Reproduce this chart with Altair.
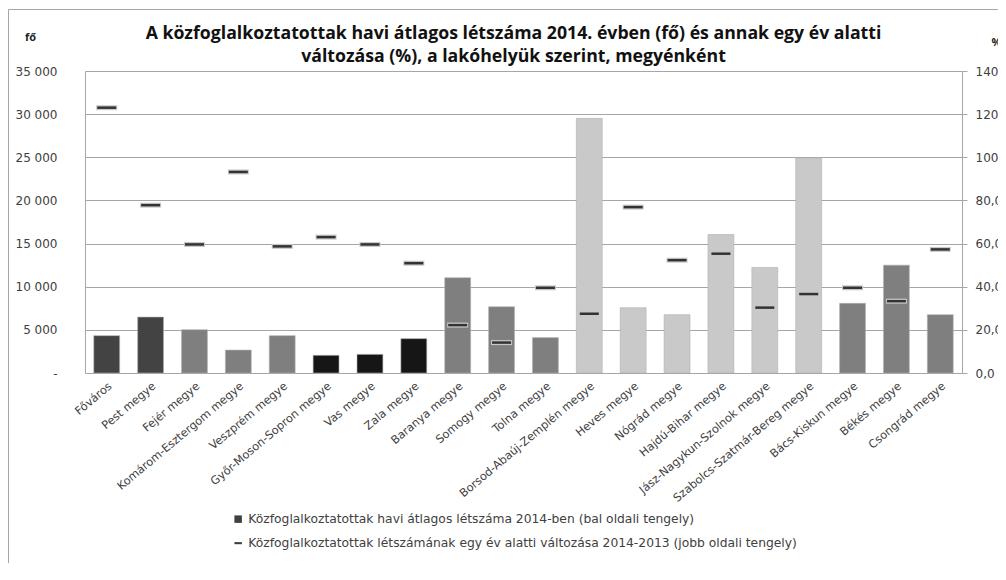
import altair as alt
import pandas as pd

counties = ["Főváros", "Pest megye", "Fejér megye", "Komárom-Esztergom megye",
            "Veszprém megye", "Győr-Moson-Sopron megye", "Vas megye", "Zala megye",
            "Baranya megye", "Somogy megye", "Tolna megye",
            "Borsod-Abaúj-Zemplén megye", "Heves megye", "Nógrád megye",
            "Hajdú-Bihar megye", "Jász-Nagykun-Szolnok megye",
            "Szabolcs-Szatmár-Bereg megye", "Bács-Kiskun megye", "Békés megye",
            "Csongrád megye"]
regions = ["Közép-Magyarország", "Közép-Magyarország", "Közép-Dunántúl", "Közép-Dunántúl",
           "Közép-Dunántúl", "Nyugat-Dunántúl", "Nyugat-Dunántúl", "Nyugat-Dunántúl",
           "Dél-Dunántúl", "Dél-Dunántúl", "Dél-Dunántúl",
           "Észak-Magyarország", "Észak-Magyarország", "Észak-Magyarország",
           "Észak-Alföld", "Észak-Alföld", "Észak-Alföld",
           "Dél-Alföld", "Dél-Alföld", "Dél-Alföld"]
headcount = [4330, 6480, 5020, 2660, 4330, 2050, 2160, 3980, 11040, 7680, 4100,
             29510, 7570, 6760, 16050, 12230, 24930, 8070, 12500, 6760]
change_pct = [123.0, 77.8, 59.6, 93.2, 58.7, 63.0, 59.6, 50.9, 22.2, 14.1, 39.5,
              27.5, 76.9, 52.3, 55.3, 30.3, 36.6, 39.5, 33.3, 57.3]

region_names = ["Közép-Magyarország", "Közép-Dunántúl", "Nyugat-Dunántúl", "Dél-Dunántúl",
                "Észak-Magyarország", "Észak-Alföld", "Dél-Alföld"]
region_colors = ["#434343", "#7f7f7f", "#161616", "#7f7f7f", "#c9c9c9", "#c9c9c9", "#7f7f7f"]

legend_labels = ["Közfoglalkoztatottak havi átlagos létszáma 2014-ben (bal oldali tengely)",
                 "Közfoglalkoztatottak létszámának egy év alatti változása 2014-2013 (jobb oldali tengely)"]

title_lines = ["A közfoglalkoztatottak havi átlagos létszáma 2014. évben (fő) és annak egy év alatti",
               "változása (%), a lakóhelyük szerint, megyénként"]

df = pd.DataFrame({"county": counties, "region": regions,
                   "headcount": headcount, "change": change_pct})
legend_df = pd.DataFrame({"label": legend_labels})

FONT = "DejaVu Sans"
TFONT = "Open Sans"
GRID = "#a6a6a6"
TXT = "#404040"

xenc = alt.X("county:N", sort=counties, title=None,
             scale=alt.Scale(paddingInner=0.41, paddingOuter=0.2),
             axis=alt.Axis(labelAngle=-40, labelFontSize=11.3, labelFont=FONT,
                           labelColor=TXT, ticks=False, labelPadding=7,
                           domainColor=GRID, labelLimit=300))

frame = alt.Chart(pd.DataFrame({"f": [0]})).mark_rect(
    fill="transparent", stroke="#a6a6a6", strokeWidth=1
).encode(x=alt.value(-76.5), x2=alt.value(1000), y=alt.value(-61.5), y2=alt.value(700))

bars = alt.Chart(df).mark_bar(stroke="#b0b0b0", strokeWidth=0.6).encode(
    x=xenc,
    y=alt.Y("headcount:Q", scale=alt.Scale(domain=[0, 35000], nice=False),
            axis=alt.Axis(values=list(range(0, 35001, 5000)), grid=True, gridColor=GRID,
                          domainColor=GRID, ticks=False, labelPadding=28,
                          labelFont=FONT, labelFontSize=12, labelColor=TXT,
                          labelExpr="datum.value == 0 ? '-\u00a0\u00a0' : replace(format(datum.value, ','), ',', ' ')",
                          title="fő", titleAngle=0, titleX=-55, titleY=-34,
                          titleAlign="center", titleBaseline="middle",
                          titleFont=TFONT, titleFontSize=11, titleFontWeight="bold",
                          titleColor="#222222")),
    fill=alt.Fill("region:N", scale=alt.Scale(domain=region_names, range=region_colors),
                  legend=None),
)

yr = alt.Y("change:Q", scale=alt.Scale(domain=[0, 140], nice=False),
           axis=alt.Axis(orient="right", values=list(range(0, 141, 20)), grid=False,
                         domainColor=GRID, tickColor=GRID, tickSize=5, labelPadding=8,
                         labelFont=FONT, labelFontSize=12, labelColor=TXT,
                         labelExpr="replace(format(datum.value, '.1f'), '.', ',')",
                         title="%", titleAngle=0, titleX=34, titleY=-29,
                         titleAlign="center", titleBaseline="middle",
                         titleFont=TFONT, titleFontSize=11, titleFontWeight="bold",
                         titleColor="#222222"))

halo = alt.Chart(df).mark_tick(color="#c8c8c8", thickness=5, size=21, opacity=1).encode(
    x=xenc, y=yr)
ticks = alt.Chart(df).mark_tick(color="#333333", thickness=2.5, size=19, opacity=1).encode(
    x=xenc, y=yr)
tick_layer = alt.layer(halo, ticks)

legend_layer = alt.Chart(legend_df).mark_point(filled=True, opacity=0).encode(
    shape=alt.Shape("label:N",
                    scale=alt.Scale(domain=legend_labels,
                                    range=["square", "M-1,-0.28H1V0.28H-1Z"]),
                    legend=alt.Legend(orient="none", legendX=147, legendY=442, title=None,
                                      direction="vertical", labelFont=FONT, labelFontSize=12.3,
                                      labelColor=TXT, labelLimit=0, rowPadding=11,
                                      symbolSize=56, symbolOpacity=1, symbolStrokeWidth=0,
                                      symbolFillColor="#404040")),
    color=alt.value("#404040"),
)

chart = alt.layer(frame, bars, tick_layer, legend_layer).resolve_scale(
    y="independent"
).properties(
    width=877, height=302,
    padding={"left": 77, "top": 63, "right": 36, "bottom": 190},
    autosize=alt.AutoSizeParams(type="none"),
    title=alt.TitleParams(title_lines, fontSize=17.7, font=TFONT, fontWeight="bold",
                          color="#111111", lineHeight=23, anchor="middle", dx=-10, dy=60.5),
).configure_view(strokeWidth=0)

chart.save("out.html", embed_options={"renderer": "svg", "actions": False})
